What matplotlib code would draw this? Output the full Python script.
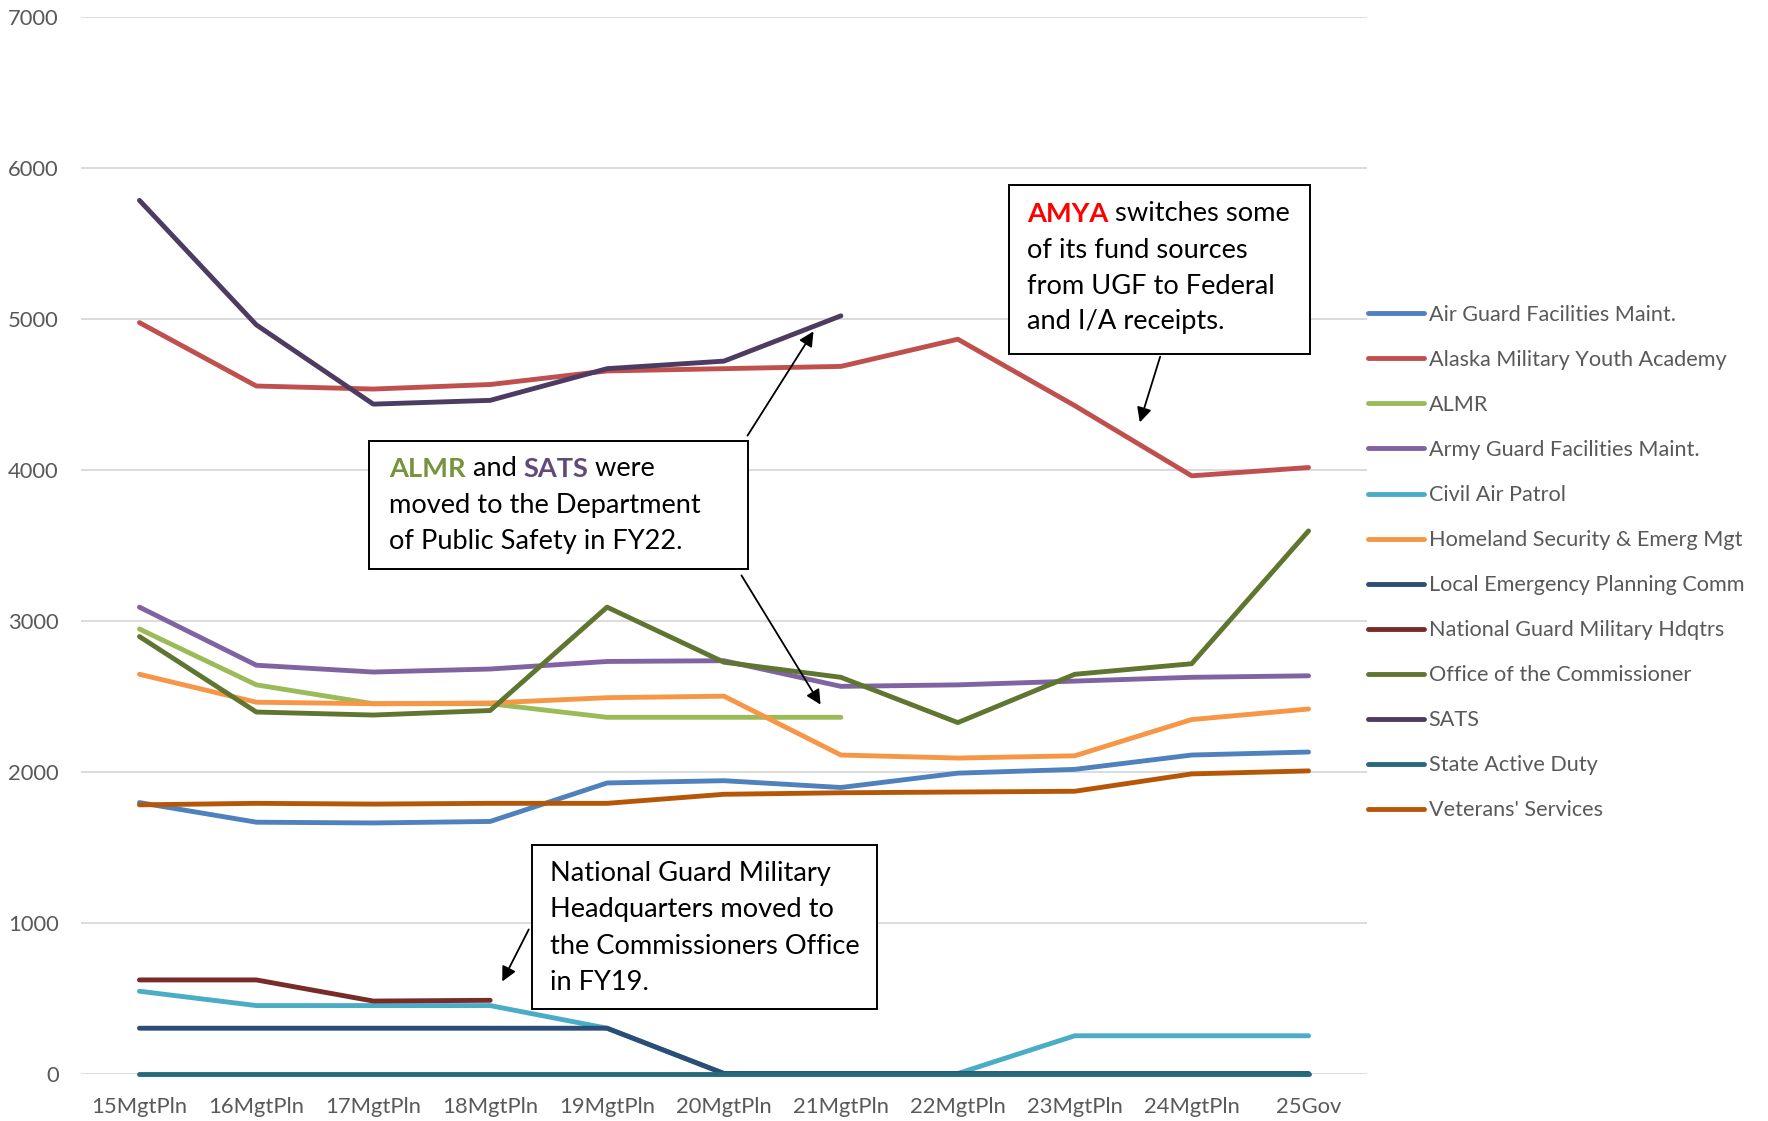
import matplotlib
matplotlib.use('Agg')
import matplotlib.pyplot as plt
from matplotlib.patches import Rectangle, FancyArrowPatch
from matplotlib.text import Annotation
import numpy as np

plt.rcParams['font.family'] = ['Lato', 'DejaVu Sans']

# === 数据（从图上读取，单位：千美元）===
years = ['15MgtPln', '16MgtPln', '17MgtPln', '18MgtPln', '19MgtPln', '20MgtPln',
         '21MgtPln', '22MgtPln', '23MgtPln', '24MgtPln', '25Gov']

air_guard = [1795, 1665, 1660, 1670, 1925, 1940, 1895, 1990, 2015, 2110, 2130]
amya = [4975, 4555, 4535, 4565, 4655, 4670, 4685, 4865, 4425, 3960, 4015]
almr = [2945, 2575, 2450, 2450, 2360, 2360, 2360]
army_guard = [3090, 2705, 2660, 2680, 2730, 2735, 2565, 2575, 2600, 2625, 2635]
civil_air = [545, 450, 450, 450, 300, 0, 0, 0, 250, 250, 250]
homeland = [2645, 2460, 2450, 2455, 2490, 2500, 2110, 2090, 2105, 2345, 2415]
lepc = [300, 300, 300, 300, 300, 0, 0, 0, 0, 0, 0]
ngmh = [620, 620, 480, 485]
commissioner = [2895, 2395, 2375, 2405, 3090, 2725, 2625, 2325, 2645, 2715, 3595]
sats = [5785, 4960, 4435, 4460, 4670, 4720, 5020]
state_active = [0, 0, 0, 0, 0, 0, 0, 0, 0, 0, 0]
veterans = [1780, 1790, 1785, 1790, 1790, 1850, 1860, 1865, 1870, 1985, 2005]

series = [
    ('Air Guard Facilities Maint.', air_guard, '#4F81BD'),
    ('Alaska Military Youth Academy', amya, '#C0504D'),
    ('ALMR', almr, '#9BBB59'),
    ('Army Guard Facilities Maint.', army_guard, '#8064A2'),
    ('Civil Air Patrol', civil_air, '#4BACC6'),
    ('Homeland Security & Emerg Mgt', homeland, '#F79646'),
    ('Local Emergency Planning Comm', lepc, '#2C4D75'),
    ('National Guard Military Hdqtrs', ngmh, '#772C2A'),
    ('Office of the Commissioner', commissioner, '#5F7530'),
    ('SATS', sats, '#4D3B62'),
    ('State Active Duty', state_active, '#276A7C'),
    ("Veterans' Services", veterans, '#B65708'),
]

W, H = 1768, 1121


def fx(px):
    return px / W


def fy(py):
    return 1 - py / H


fig = plt.figure(figsize=(W / 100, H / 100), dpi=100)
ax = fig.add_axes([fx(81), fy(1073.5), fx(1367) - fx(81), fy(17) - fy(1073.5)])

x = np.arange(len(years))
for name, vals, color in series:
    ax.plot(x[:len(vals)], vals, color=color, lw=3.5, label=name, clip_on=False,
            solid_capstyle='round', solid_joinstyle='round')

ax.set_xlim(-0.5, len(years) - 0.5)
ax.set_ylim(0, 7000)
ax.set_yticks(range(0, 7001, 1000))
ax.set_xticks(x)
ax.set_xticklabels(years)
ax.yaxis.grid(True, color='#D9D9D9', lw=1.3)
ax.set_axisbelow(True)
for s in ax.spines.values():
    s.set_visible(False)
ax.tick_params(axis='both', length=0, labelcolor='#595959', labelsize=15.8)
ax.tick_params(axis='y', pad=16)
ax.tick_params(axis='x', pad=17)

fig.legend(loc='upper left', bbox_to_anchor=(fx(1368), fy(305)), frameon=False,
           borderpad=0, borderaxespad=0, handlelength=2.6, handletextpad=0.2,
           labelspacing=1.155, fontsize=15.6, labelcolor='#595959')


# === 注释框 ===
def box(x0, y0, x1, y1):
    fig.patches.append(Rectangle((fx(x0), fy(y1)), fx(x1) - fx(x0), fy(y0) - fy(y1),
                                 transform=fig.transFigure, fill=True, fc='white',
                                 ec='black', lw=1.4, zorder=5))


def write_line(px, py, words, size=19.6):
    # 一行多色文字：后一段接在前一段右边
    prev = fig.text(fx(px), fy(py), words[0][0], color=words[0][1], fontweight=words[0][2],
                    fontsize=size, va='center', ha='left', zorder=6)
    for txt, color, weight in words[1:]:
        prev = fig.add_artist(Annotation(
            txt, xy=(1, 0), xycoords=prev, va='bottom', ha='left', color=color,
            fontweight=weight, fontsize=size, zorder=6))


def arrow(x0, y0, x1, y1):
    fig.patches.append(FancyArrowPatch((fx(x0), fy(y0)), (fx(x1), fy(y1)),
                                       transform=fig.transFigure, arrowstyle='-|>',
                                       mutation_scale=22, lw=1.3, color='black', zorder=7))


box(1009, 185, 1310, 354)
write_line(1027, 214, [('AMYA', '#FF0000', 'bold'), (' switches some', 'black', 'normal')])
write_line(1027, 250, [('of its fund sources', 'black', 'normal')])
write_line(1027, 286, [('from UGF to Federal', 'black', 'normal')])
write_line(1027, 322, [('and I/A receipts.', 'black', 'normal')])
arrow(1161, 354, 1139, 425)

box(369, 441, 748, 569)
write_line(389, 469, [('ALMR', '#77933C', 'bold'), (' and ', 'black', 'normal'),
                      ('SATS', '#604A7B', 'bold'), (' were', 'black', 'normal')])
write_line(389, 505, [('moved to the Department', 'black', 'normal')])
write_line(389, 541, [('of Public Safety in FY22.', 'black', 'normal')])
arrow(746, 438, 815, 329)
arrow(740, 573, 822, 707)

box(532, 845, 877, 1009)
write_line(550, 874, [('National Guard Military', 'black', 'normal')])
write_line(550, 910, [('Headquarters moved to', 'black', 'normal')])
write_line(550, 946, [('the Commissioners Office', 'black', 'normal')])
write_line(550, 982, [('in FY19.', 'black', 'normal')])
arrow(530, 927, 501, 984)

fig.savefig('out.png', dpi=100)
